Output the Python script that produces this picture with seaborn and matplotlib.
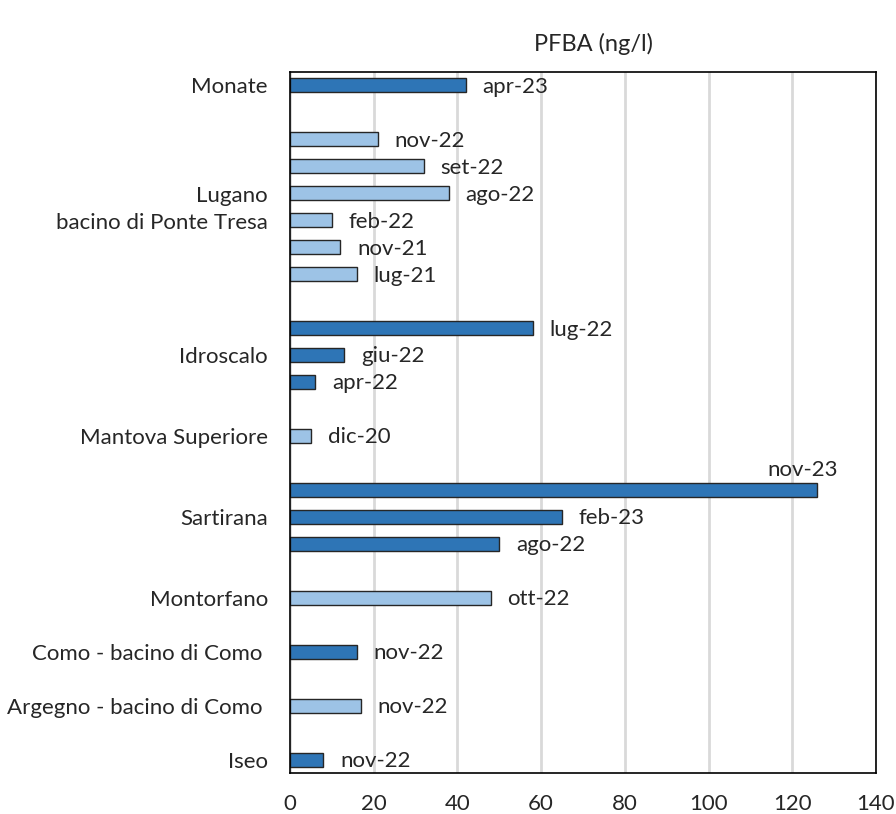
import numpy as np
import pandas as pd
import seaborn as sns
import matplotlib
from matplotlib import pyplot as plt

# dati: una riga per barra (slot = posizione verticale, 0 in alto)
date_lbl = ['apr-23',
            'nov-22', 'set-22', 'ago-22', 'feb-22', 'nov-21', 'lug-21',
            'lug-22', 'giu-22', 'apr-22',
            'dic-20',
            'nov-23', 'feb-23', 'ago-22',
            'ott-22',
            'nov-22',
            'nov-22',
            'nov-22']
pfba = [42,
        21, 32, 38, 10, 12, 16,
        58, 13, 6,
        5,
        126, 65, 50,
        48,
        16,
        17,
        8]
slot = [0,
        2, 3, 4, 5, 6, 7,
        9, 10, 11,
        13,
        15, 16, 17,
        19,
        21,
        23,
        25]
tono = ['scuro',
        'chiaro', 'chiaro', 'chiaro', 'chiaro', 'chiaro', 'chiaro',
        'scuro', 'scuro', 'scuro',
        'chiaro',
        'scuro', 'scuro', 'scuro',
        'chiaro',
        'scuro',
        'chiaro',
        'scuro']

laghi = ['Monate', 'Lugano\nbacino di Ponte Tresa', 'Idroscalo', 'Mantova Superiore',
         'Sartirana', 'Montorfano', 'Como - bacino di Como ', 'Argegno - bacino di Como ', 'Iseo']
laghi_pos = [0, 4.4, 10, 13, 16, 19, 21, 23, 25]

df = pd.DataFrame({'data': date_lbl, 'pfba': pfba, 'slot': slot, 'tono': tono})

sns.set_style('white')
plt.rcParams['font.family'] = ['Lato', 'DejaVu Sans']

fig = plt.figure(figsize=(8.96, 8.14), dpi=100)
ax = fig.add_axes([290 / 896, 41 / 814, 586 / 896, 701 / 814])

sns.barplot(data=df, x='pfba', y='slot', hue='tono', orient='h', native_scale=True,
            palette={'scuro': '#2E75B6', 'chiaro': '#9DC3E6'}, dodge=False, saturation=1,
            width=0.52, edgecolor='#262626', linewidth=1, legend=False, ax=ax)

ax.set_xlim(0, 140)
ax.set_ylim(25.5, -0.5)
ax.set_xticks(np.arange(0, 141, 20))
ax.xaxis.grid(True, color='#d9d9d9', linewidth=2)
ax.set_axisbelow(True)
ax.set_yticks(laghi_pos)
ax.set_yticklabels(laghi, fontsize=16, linespacing=1.45, ha='right')
ax.tick_params(axis='y', length=0, pad=16)
ax.tick_params(axis='x', length=0, pad=15, labelsize=16)
ax.set_xlabel('')
ax.set_ylabel('')
for s in ax.spines.values():
    s.set_visible(True)
    s.set_color('black')
    s.set_linewidth(1.2)

# etichette delle date
for x, y, t in zip(df.pfba, df.slot, df.data):
    if x > 110:
        ax.annotate(t, (x, y), xytext=(-10.5, 14), textcoords='offset points',
                    ha='center', va='center', fontsize=16)
    else:
        ax.annotate(t, (x, y), xytext=(12, -1), textcoords='offset points',
                    ha='left', va='center', fontsize=16)

fig.text(593 / 896, 1 - 44 / 814, 'PFBA (ng/l)', ha='center', va='center', fontsize=17)

fig.savefig('out.png', dpi=100)
